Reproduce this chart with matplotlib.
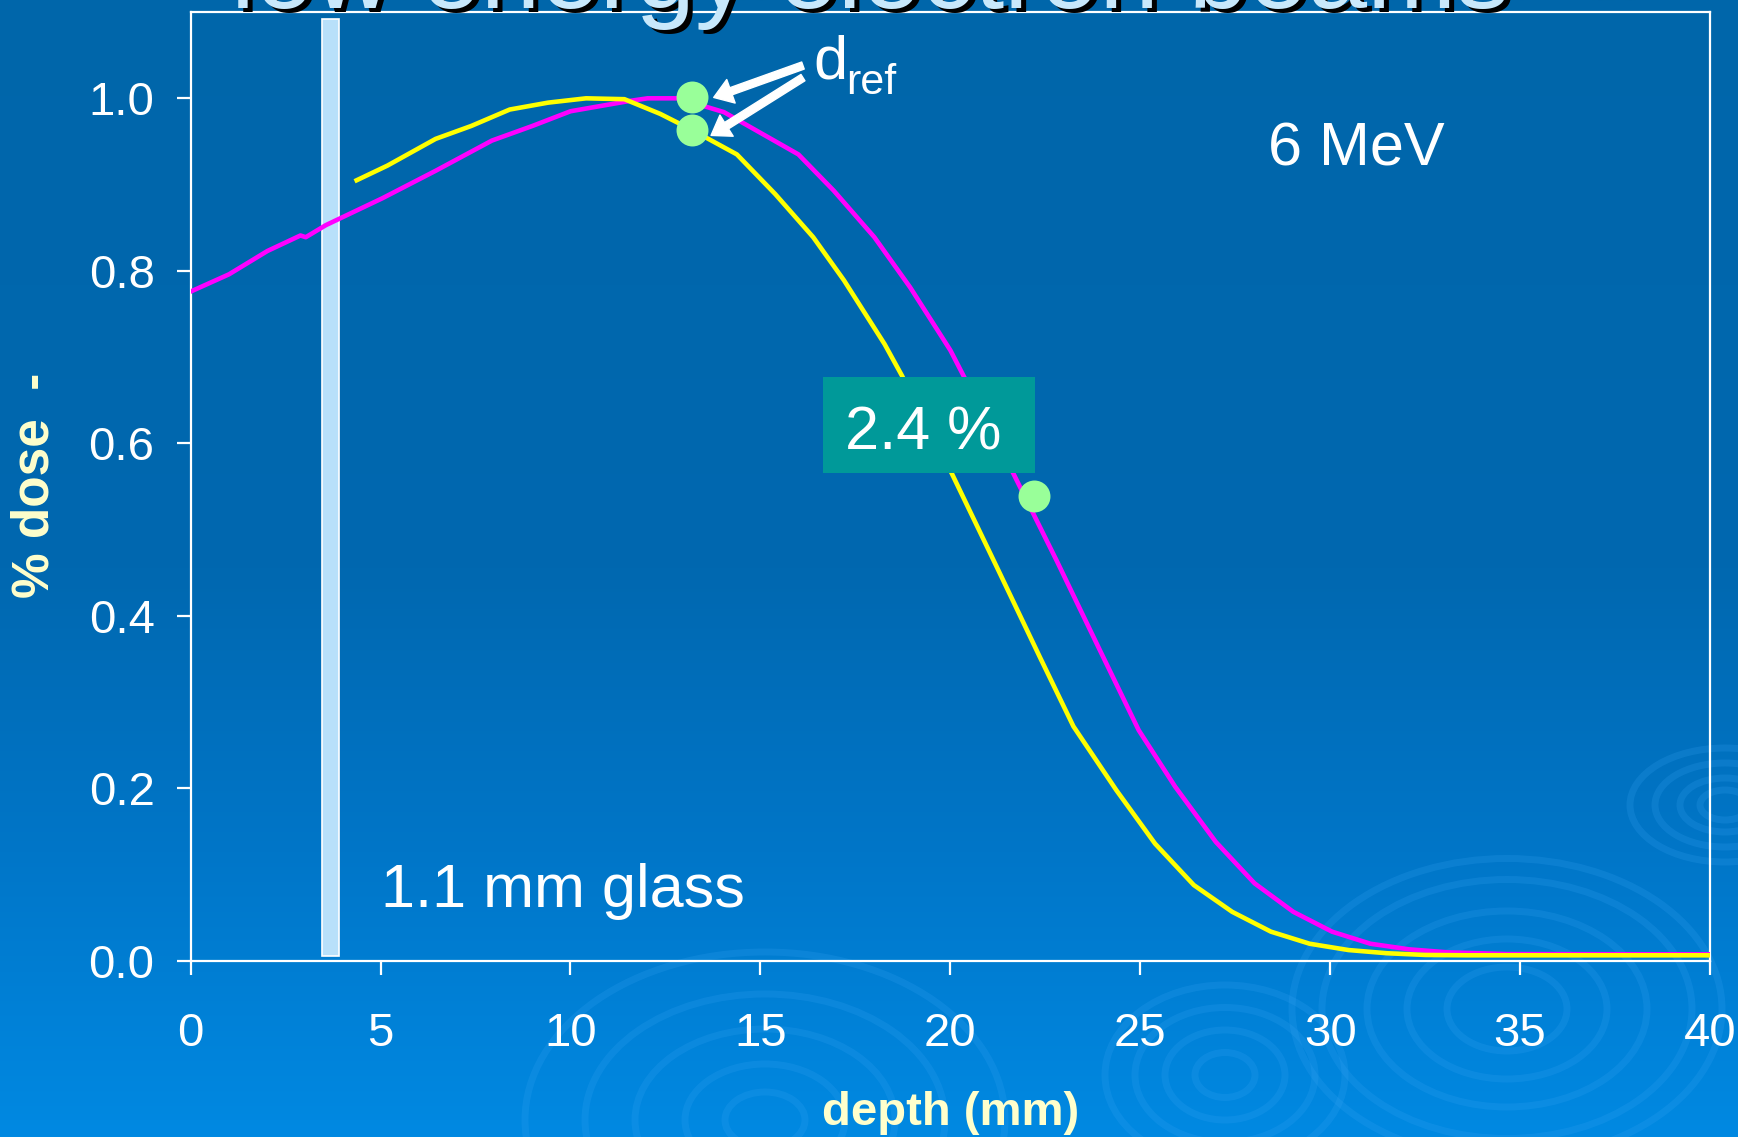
import matplotlib
matplotlib.use("Agg")
import matplotlib.pyplot as plt
import numpy as np
from matplotlib.patches import Rectangle, Ellipse
from matplotlib import transforms

plt.rcParams['font.family'] = ['Liberation Sans', 'DejaVu Sans']

# magenta depth-dose curve
depth_mag = [0, 1.01, 2.02, 2.89, 3.03, 3.56, 5.04, 6.45, 7.93, 9.0, 10.0, 11.56, 12.03,
             12.83, 14.04, 16.0, 16.93, 18.0, 18.94, 20.0, 20.34, 21.66, 22.8, 23.94,
             24.96, 25.92, 26.99, 28.01, 29.03, 30.05, 31.06, 32.08, 33.1, 34.65, 40]
dose_mag = [0.776, 0.796, 0.823, 0.841, 0.839, 0.853, 0.884, 0.916, 0.951, 0.968, 0.985,
            0.997, 1.0, 1.0, 0.984, 0.935, 0.893, 0.839, 0.781, 0.708, 0.679, 0.565, 0.464,
            0.360, 0.2675, 0.202, 0.138, 0.090, 0.057, 0.034, 0.020, 0.0135, 0.010, 0.008,
            0.0077]

# yellow depth-dose curve (behind 1.1 mm glass)
depth_yel = [4.37, 5.18, 6.45, 7.39, 8.40, 9.41, 10.41, 11.42, 12.36, 13.17, 14.38, 15.39,
             16.39, 17.2, 18.27, 18.72, 20.04, 21.22, 22.36, 23.24, 24.37, 25.39,
             26.41, 27.42, 28.44, 29.46, 30.48, 31.49, 32.51, 33.6, 40]
dose_yel = [0.905, 0.922, 0.953, 0.968, 0.987, 0.995, 1.0, 0.999, 0.982, 0.964, 0.935, 0.889,
            0.839, 0.789, 0.715, 0.679, 0.565, 0.457, 0.352, 0.272, 0.198, 0.136,
            0.088, 0.057, 0.034, 0.020, 0.0127, 0.009, 0.007, 0.0066, 0.0066]

# marked points (d_ref and the 50% point)
dot_x = [13.19, 13.19, 22.21]
dot_y = [1.001, 0.963, 0.539]

glass_x = [3.47, 3.9]
glass_y = [0.006, 1.092]

xticks = [0, 5, 10, 15, 20, 25, 30, 35, 40]
yticks = [0.0, 0.2, 0.4, 0.6, 0.8, 1.0]

fig = plt.figure(figsize=(17.38, 11.37), dpi=100)

# slide background gradient
bg = fig.add_axes([0, 0, 1, 1], zorder=-10)
pos = np.linspace(0, 1, 400)
stops = [0, 0.5, 0.75, 1.0]
r = np.interp(pos, stops, [0, 0, 0, 0])
g = np.interp(pos, stops, [102, 104, 118, 137])
b = np.interp(pos, stops, [170, 176, 200, 226])
grad = np.stack([r, g, b], axis=1)[:, None, :].repeat(2, axis=1) / 255
bg.imshow(grad, aspect='auto', extent=[0, 1738, 1137, 0])
# faint swirl decorations
swirls = [((1507, 1009), [60, 100, 140, 185, 215], 0.7),
          ((1225, 1075), [30, 60, 90, 120], 0.75),
          ((765, 1120), [40, 80, 130, 180, 240], 0.7),
          ((1725, 805), [25, 45, 70, 95], 0.6)]
for (cx, cy), radii, asp in swirls:
    for rr in radii:
        bg.add_patch(Ellipse((cx, cy), 2 * rr, 2 * rr * asp, fill=False,
                             ec='#3aa6f5', lw=5, alpha=0.2))
bg.set_xlim(0, 1738)
bg.set_ylim(1137, 0)
bg.axis('off')

# cut-off slide title with shadow
shadow = transforms.offset_copy(fig.transFigure, fig=fig, x=3, y=-3, units='points')
fig.text(0.501, 0.993, 'low energy electron beams', fontsize=77, color='black',
         ha='center', va='baseline', transform=shadow)
fig.text(0.501, 0.993, 'low energy electron beams', fontsize=77, color='#c8e8fb',
         ha='center', va='baseline')

ax = fig.add_axes([0.1097, 0.1548, 0.8742, 0.8346])
ax.patch.set_alpha(0)

ax.add_patch(Rectangle((glass_x[0], glass_y[0]), glass_x[1] - glass_x[0],
                       glass_y[1] - glass_y[0], fc='#b8e0fa', ec='white', lw=1.2, zorder=2))

ax.plot(depth_mag, dose_mag, color='#ff00ff', lw=3.3, zorder=3)
ax.plot(depth_yel, dose_yel, color='#ffff00', lw=3.3, zorder=3)

ax.add_patch(Rectangle((16.64, 0.5655), 22.23 - 16.64, 0.6775 - 0.5655,
                       fc='#009999', ec='none', zorder=4))
ax.text(17.23, 0.5926, '2.4 %', fontsize=44, color='white', va='baseline', zorder=5)

ax.plot(dot_x, dot_y, 'o', ms=23, color='#99ff99', mec='none', zorder=6)

arrow = dict(arrowstyle='simple,head_length=1.1,head_width=1.5,tail_width=0.45',
             fc='white', ec='white', shrinkA=0, shrinkB=0, mutation_scale=12)
ax.annotate('', xy=(13.77, 1.001), xytext=(16.12, 1.038), arrowprops=arrow, zorder=7)
ax.annotate('', xy=(13.7, 0.957), xytext=(16.12, 1.024), arrowprops=arrow, zorder=7)
ax.text(16.39, 1.0226, 'd', fontsize=44, color='white', va='baseline', zorder=7)
ax.text(17.25, 1.005, 'ref', fontsize=31, color='white', va='baseline', zorder=7)

ax.text(28.37, 0.922, '6 MeV', fontsize=44, color='white', va='baseline')
ax.text(5.0, 0.0629, '1.1 mm glass', fontsize=44, color='white', va='baseline')

ax.set_xlim(0, 40)
ax.set_ylim(0, 1.1)
ax.set_xticks(xticks)
ax.set_xticklabels([str(v) for v in xticks])
ax.set_yticks(yticks)
ax.set_yticklabels(['%.1f' % v for v in yticks])
for sp in ax.spines.values():
    sp.set_color('white')
    sp.set_linewidth(1.6)
ax.tick_params(axis='both', direction='out', length=10, width=1.6, colors='white',
               labelsize=34)
ax.tick_params(axis='x', pad=27)
ax.tick_params(axis='y', pad=16)

fig.text(0.5467, 1 - 1125 / 1137, 'depth (mm)', fontsize=34, fontweight='bold',
         color='#ffffcc', ha='center', va='baseline')
fig.text(0.0201, 1 - 485 / 1137, '% dose  -', fontsize=37, fontweight='bold',
         color='#ffffcc', ha='center', va='center', rotation=90)

fig.savefig('out.png', dpi=100)
